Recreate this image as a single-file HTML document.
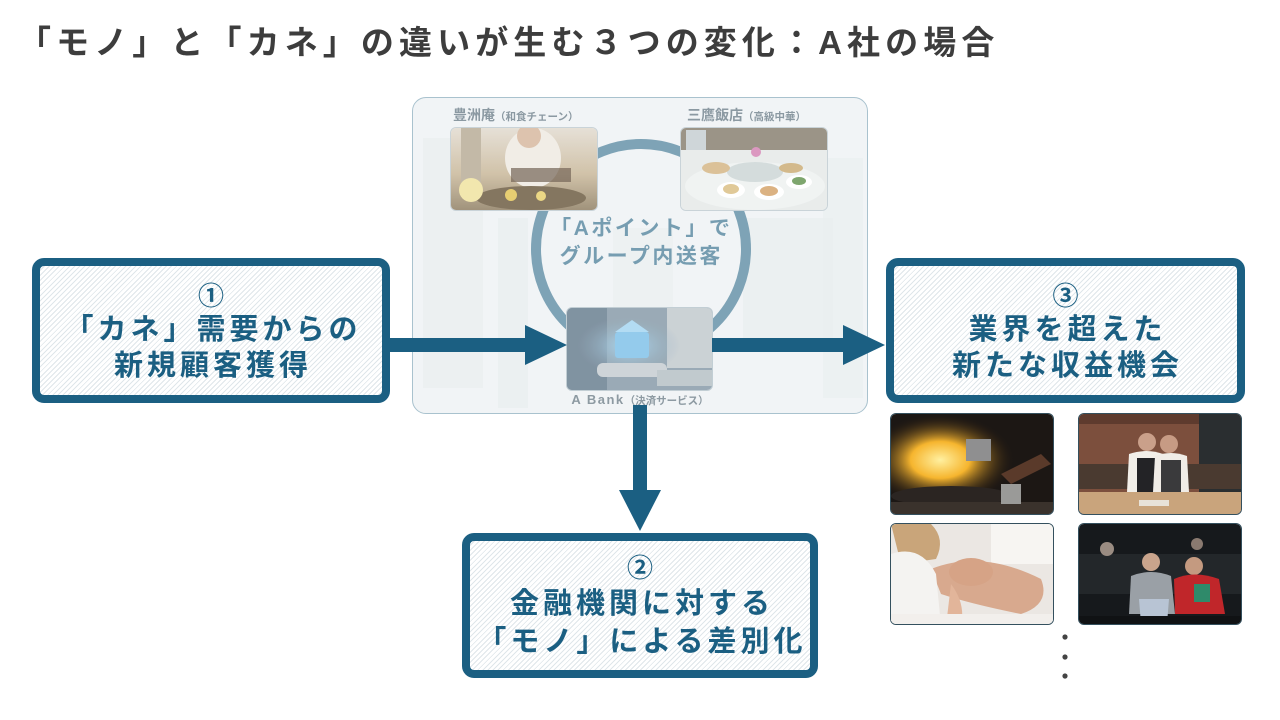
<!DOCTYPE html>
<html><head><meta charset="utf-8">
<style>
*{margin:0;padding:0;box-sizing:border-box}
html,body{width:1280px;height:720px;overflow:hidden;background:#fff}
body{position:relative;font-family:"Liberation Sans","Noto Sans CJK JP",sans-serif}
.abs{position:absolute}
.title{left:18px;top:21px;font-size:33px;font-weight:bold;color:#3d3d3d;letter-spacing:5.1px;white-space:nowrap;line-height:44px}
.panel{left:412px;top:97px;width:456px;height:317px;border:1.5px solid #a9c2ce;border-radius:14px;background:#f1f4f6;overflow:hidden}
.box{border:8px solid #1b5f82;border-radius:12px;background:repeating-linear-gradient(135deg,#ffffff 0px,#ffffff 2.6px,#dfe6ea 2.6px,#dfe6ea 3.6px)}
.bt{position:absolute;left:0;width:100%;text-align:center;color:#1b5f82;font-weight:bold;white-space:nowrap}
.num{font-size:26px;font-weight:bold;line-height:30px}
.big{font-size:29px;letter-spacing:4px;padding-left:4px;line-height:36px}
.ph{position:absolute;border-radius:6px;overflow:hidden;border:1px solid #5b7482}
.lbl{color:#8b99a2;font-weight:bold;white-space:nowrap}
</style></head><body>

<div class="abs title">「モノ」と「カネ」の違いが生む３つの変化：A社の場合</div>

<!-- center panel -->
<div class="abs panel">
  <svg width="456" height="317" style="position:absolute;left:0;top:0">
    <rect x="10" y="40" width="60" height="250" fill="#e9eef0" opacity="0.7"/>
    <rect x="85" y="120" width="30" height="190" fill="#e7ecee" opacity="0.6"/>
    <rect x="200" y="130" width="60" height="80" fill="#ebeff1" opacity="0.7"/>
    <rect x="330" y="120" width="90" height="130" fill="#e8edef" opacity="0.6"/>
    <rect x="410" y="60" width="40" height="240" fill="#eaeef0" opacity="0.6"/>
    <circle cx="228" cy="151" r="105" fill="none" stroke="#7ea3b6" stroke-width="10"/>
  </svg>
</div>

<div class="abs lbl" style="left:453px;top:105px;font-size:14px;line-height:20px">豊洲庵<span style="font-size:10.5px">（和食チェーン）</span></div>
<div class="abs lbl" style="left:687px;top:105px;font-size:14px;line-height:20px">三鷹飯店<span style="font-size:10.5px">（高級中華）</span></div>

<!-- photo TL -->
<div class="ph" style="left:450px;top:127px;width:148px;height:84px;border-color:#c9d3d8">
<svg width="148" height="84">
<defs><linearGradient id="g1" x1="0" y1="0" x2="0" y2="1"><stop offset="0" stop-color="#e2dbd0"/><stop offset="0.55" stop-color="#c9b89a"/><stop offset="1" stop-color="#8d7d62"/></linearGradient></defs>
<rect width="148" height="84" fill="url(#g1)"/>
<rect x="10" y="0" width="20" height="55" fill="#b9ad98"/>
<ellipse cx="82" cy="30" rx="28" ry="30" fill="#efeae2"/>
<circle cx="78" cy="8" r="12" fill="#d8b9a0"/>
<rect x="60" y="40" width="60" height="14" fill="#5c4a3a" opacity="0.7"/>
<ellipse cx="80" cy="70" rx="55" ry="12" fill="#6f5e45"/>
<circle cx="60" cy="67" r="6" fill="#e3c65a"/><circle cx="90" cy="68" r="5" fill="#e8d070"/>
<circle cx="20" cy="62" r="12" fill="#f0e3a0"/>
<rect width="148" height="84" fill="#ffffff" opacity="0.15"/>
</svg></div>

<!-- photo TR -->
<div class="ph" style="left:680px;top:127px;width:148px;height:84px;border-color:#c9d3d8">
<svg width="148" height="84">
<rect width="148" height="84" fill="#e6eae9"/>
<rect width="148" height="22" fill="#8e8677"/>
<rect x="5" y="2" width="20" height="20" fill="#c9d1d4"/>
<ellipse cx="74" cy="58" rx="70" ry="24" fill="#eef2f1"/>
<ellipse cx="74" cy="44" rx="28" ry="10" fill="#cfd8d8"/>
<ellipse cx="35" cy="40" rx="14" ry="6" fill="#d6b98a"/><ellipse cx="110" cy="40" rx="12" ry="5" fill="#cdb07c"/>
<ellipse cx="50" cy="62" rx="14" ry="8" fill="#fff"/><ellipse cx="50" cy="61" rx="8" ry="5" fill="#dcc28a"/>
<ellipse cx="88" cy="64" rx="15" ry="8" fill="#fff"/><ellipse cx="88" cy="63" rx="9" ry="5" fill="#d7a871"/>
<ellipse cx="118" cy="54" rx="13" ry="7" fill="#fff"/><ellipse cx="118" cy="53" rx="7" ry="4" fill="#6d9a5a"/>
<circle cx="75" cy="24" r="5" fill="#d78ab8"/>
<rect width="148" height="84" fill="#ffffff" opacity="0.12"/>
</svg></div>

<div class="abs" style="left:540px;top:215px;width:200px;text-align:center;color:#769db1;font-weight:bold;font-size:21px;letter-spacing:2.5px;line-height:28px;padding-left:2.5px">「Aポイント」で<br>グループ内送客</div>

<!-- A Bank photo -->
<div class="ph" style="left:566px;top:307px;width:147px;height:84px;border-color:#c2ced4">
<svg width="147" height="84">
<defs><radialGradient id="gb" cx="0.42" cy="0.45" r="0.35"><stop offset="0" stop-color="#9fd6f5"/><stop offset="1" stop-color="#8da3b2" stop-opacity="0"/></radialGradient></defs>
<rect width="147" height="84" fill="#8c9fac"/>
<rect x="100" y="0" width="47" height="60" fill="#c4ccd0"/>
<rect x="0" y="0" width="40" height="84" fill="#6f8495"/>
<rect width="147" height="84" fill="url(#gb)"/>
<rect x="48" y="24" width="34" height="26" rx="3" fill="#86c4ea"/>
<path d="M48 24 L65 12 L82 24" fill="#a9d8f2"/>
<rect x="30" y="55" width="70" height="14" rx="6" fill="#c8cfd3"/>
<rect x="90" y="62" width="55" height="16" fill="#b9c3c8"/>
<rect width="147" height="84" fill="#ffffff" opacity="0.12"/>
</svg></div>

<div class="abs lbl" style="left:540px;top:391px;width:200px;text-align:center;font-size:13px;line-height:18px;color:#8d9aa2"><span style="letter-spacing:1.5px">A Bank</span><span style="font-size:10.5px">（決済サービス）</span></div>

<!-- boxes -->
<div class="abs box" style="left:32px;top:258px;width:358px;height:145px">
  <div class="bt num" style="top:15px">①</div>
  <div class="bt big" style="top:46px">「カネ」需要からの</div>
  <div class="bt big" style="top:82px">新規顧客獲得</div>
</div>

<div class="abs box" style="left:886px;top:258px;width:359px;height:145px">
  <div class="bt num" style="top:15px">③</div>
  <div class="bt big" style="top:46px">業界を超えた</div>
  <div class="bt big" style="top:82px">新たな収益機会</div>
</div>

<div class="abs box" style="left:462px;top:533px;width:356px;height:145px">
  <div class="bt num" style="top:12px">②</div>
  <div class="bt big" style="top:45px">金融機関に対する</div>
  <div class="bt big" style="top:83px">「モノ」による差別化</div>
</div>

<!-- right photos -->
<div class="ph" style="left:890px;top:413px;width:164px;height:102px;border-color:#34505e">
<svg width="164" height="102">
<defs><radialGradient id="f1" cx="0.3" cy="0.45" r="0.45"><stop offset="0" stop-color="#fff0a0"/><stop offset="0.4" stop-color="#f6b52e"/><stop offset="1" stop-color="#2a1a10" stop-opacity="0"/></radialGradient></defs>
<rect width="164" height="102" fill="#1c1714"/>
<rect width="164" height="102" fill="url(#f1)"/>
<rect x="75" y="25" width="25" height="22" fill="#8f8f90"/>
<ellipse cx="60" cy="82" rx="60" ry="10" fill="#2b2522"/>
<path d="M110 60 L150 40 L160 50 L120 70Z" fill="#5a3a2a"/>
<rect x="0" y="88" width="164" height="14" fill="#3a322c"/>
<rect x="110" y="70" width="20" height="20" fill="#9a9a98"/>
</svg></div>

<div class="ph" style="left:1078px;top:413px;width:164px;height:102px;border-color:#34505e">
<svg width="164" height="102">
<rect width="164" height="102" fill="#7c4f3d"/>
<rect x="0" y="0" width="164" height="10" fill="#5e3b2e"/>
<rect x="120" y="0" width="44" height="80" fill="#2a2e30"/>
<rect x="0" y="50" width="164" height="25" fill="#4a3a30"/>
<circle cx="68" cy="28" r="9" fill="#caa08a"/><circle cx="90" cy="30" r="9" fill="#c79b84"/>
<path d="M50 40 Q68 34 84 40 L86 78 L48 78Z" fill="#f2efe9"/><path d="M58 44 L80 44 L80 78 L58 78Z" fill="#232326"/>
<path d="M76 42 Q92 36 108 42 L110 78 L74 78Z" fill="#f0ece6"/><path d="M82 46 L102 46 L102 78 L82 78Z" fill="#3a3a3c"/>
<rect x="0" y="78" width="164" height="24" fill="#c9a47c"/>
<rect x="60" y="86" width="30" height="6" fill="#e8e2d8"/>
</svg></div>

<div class="ph" style="left:890px;top:523px;width:164px;height:102px;border-color:#34505e">
<svg width="164" height="102">
<rect width="164" height="102" fill="#ebe7e3"/>
<rect x="100" y="0" width="64" height="40" fill="#f7f5f2"/>
<path d="M40 45 Q90 25 150 55 Q160 80 130 90 Q80 80 50 70Z" fill="#d8a98e"/>
<ellipse cx="80" cy="48" rx="22" ry="14" fill="#d6a386"/>
<path d="M0 0 L40 0 Q55 15 45 35 L10 40Z" fill="#c9a57a"/>
<path d="M0 30 Q30 20 45 50 L50 102 L0 102Z" fill="#f4f3f1"/>
<path d="M60 60 Q75 80 70 102 L55 102Z" fill="#e2b59a"/>
<rect x="0" y="90" width="164" height="12" fill="#f2efec"/>
</svg></div>

<div class="ph" style="left:1078px;top:523px;width:164px;height:102px;border-color:#34505e">
<svg width="164" height="102">
<rect width="164" height="102" fill="#16191c"/>
<rect x="0" y="30" width="164" height="40" fill="#23272a"/>
<circle cx="28" cy="25" r="7" fill="#9a8c82"/><circle cx="118" cy="20" r="6" fill="#8a7a70"/>
<circle cx="72" cy="38" r="9" fill="#c9a48c"/><circle cx="115" cy="42" r="9" fill="#c49a80"/>
<path d="M52 52 Q72 44 92 52 L96 90 L50 90Z" fill="#9aa0a6"/>
<path d="M95 55 Q115 46 140 55 L146 90 L96 90Z" fill="#c0262a"/>
<rect x="115" y="60" width="16" height="18" fill="#2f8a6a"/>
<path d="M60 75 L90 75 L88 100 L62 100Z" fill="#b8c4d4"/>
<rect x="0" y="92" width="164" height="10" fill="#101214"/>
</svg></div>

<!-- arrows & dots on top -->
<svg class="abs" style="left:0;top:0" width="1280" height="720">
<g fill="#1b5f82">
<rect x="388" y="338" width="139" height="14"/>
<polygon points="525,325 567,345 525,365"/>
<rect x="712" y="338" width="133" height="14"/>
<polygon points="843,325 885,345 843,365"/>
<rect x="633" y="405" width="14" height="88"/>
<polygon points="619,490 661,490 640,531"/>
</g>
<g fill="#444">
<circle cx="1065" cy="637" r="2.6"/>
<circle cx="1065" cy="657" r="2.6"/>
<circle cx="1065" cy="676" r="2.6"/>
</g>
</svg>

</body></html>
